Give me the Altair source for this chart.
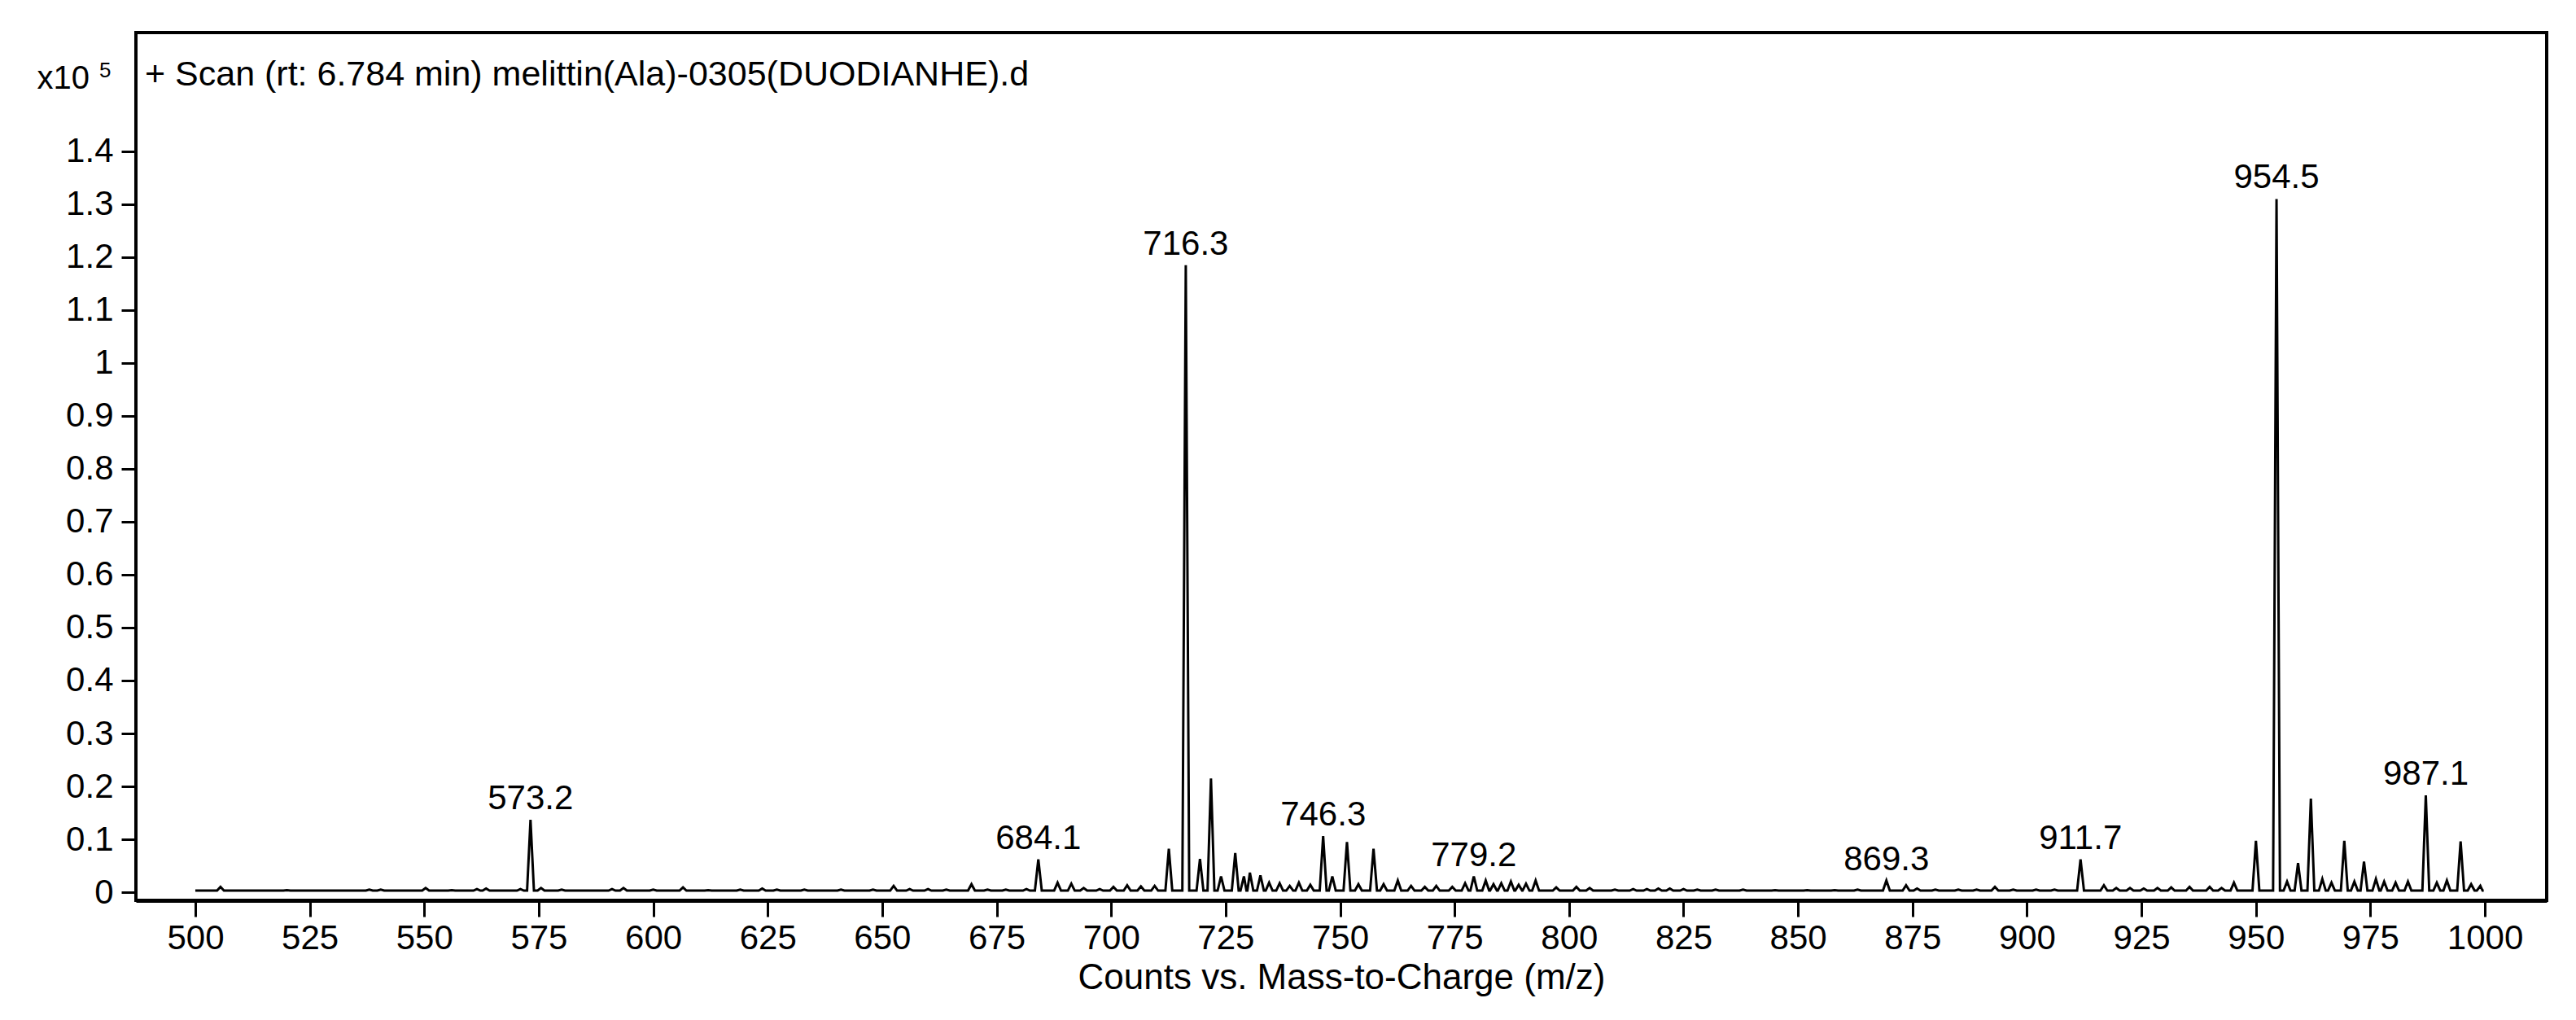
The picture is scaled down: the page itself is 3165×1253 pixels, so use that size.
import altair as alt
import pandas as pd

# ---- data (m/z, intensity x10^5) ----
peak_mz = [
    505.5, 520.0, 538.0, 540.5, 550.3, 556.0, 561.5, 563.5, 571.0, 573.2,
    575.5, 580.0, 591.0, 593.5, 600.0, 606.5, 612.0, 619.0, 623.8, 627.0,
    633.0, 641.0, 648.0, 652.5, 656.0, 660.0, 664.0, 669.5, 673.0, 677.0,
    681.5, 684.1, 688.3, 691.3, 694.0, 697.5, 700.5, 703.5, 706.5, 709.5,
    712.6, 716.3, 719.4, 721.8, 724.0, 727.1, 729.0, 730.3, 732.6, 734.5,
    736.8, 739.0, 741.0, 743.5, 746.3, 748.3, 751.5, 754.0, 757.3, 759.5,
    762.6, 765.5, 768.5, 771.0, 774.5, 777.3, 779.2, 781.8, 783.5, 785.2,
    787.3, 789.0, 790.6, 792.7, 797.2, 801.6, 804.5, 810.0, 814.0, 817.0,
    819.5, 822.0, 825.0, 828.0, 832.0, 838.0, 845.0, 852.0, 858.0, 863.0,
    869.3, 873.6, 876.0, 880.0, 885.0, 889.0, 893.0, 897.0, 902.0, 906.0,
    911.7, 916.8, 919.5, 922.5, 925.5, 928.5, 931.5, 935.5, 939.9, 942.5,
    945.2, 950.0, 954.5, 956.8, 959.2, 962.0, 964.5, 966.5, 969.3, 971.5,
    973.6, 976.2, 978.0, 980.5, 983.2, 987.1, 989.5, 991.7, 994.7, 997.0,
    999.0,
]
peak_height = [
    0.010, 0.004, 0.005, 0.005, 0.008, 0.004, 0.006, 0.007, 0.006, 0.137,
    0.008, 0.005, 0.006, 0.008, 0.005, 0.009, 0.004, 0.005, 0.007, 0.005,
    0.005, 0.005, 0.005, 0.012, 0.006, 0.006, 0.005, 0.015, 0.005, 0.005,
    0.006, 0.062, 0.018, 0.016, 0.008, 0.006, 0.010, 0.013, 0.011, 0.012,
    0.082, 1.185, 0.063, 0.215, 0.030, 0.074, 0.030, 0.037, 0.032, 0.018,
    0.017, 0.012, 0.018, 0.014, 0.106, 0.030, 0.095, 0.015, 0.082, 0.015,
    0.022, 0.012, 0.010, 0.012, 0.010, 0.017, 0.030, 0.022, 0.015, 0.017,
    0.020, 0.014, 0.016, 0.022, 0.009, 0.010, 0.008, 0.005, 0.006, 0.006,
    0.007, 0.007, 0.006, 0.005, 0.005, 0.005, 0.004, 0.004, 0.004, 0.005,
    0.022, 0.013, 0.007, 0.005, 0.005, 0.005, 0.010, 0.005, 0.005, 0.005,
    0.062, 0.013, 0.008, 0.008, 0.007, 0.008, 0.009, 0.010, 0.010, 0.008,
    0.018, 0.097, 1.310, 0.020, 0.055, 0.177, 0.025, 0.018, 0.097, 0.020,
    0.058, 0.025, 0.020, 0.018, 0.020, 0.183, 0.018, 0.022, 0.096, 0.015,
    0.012,
]
scan_start = 500.0
scan_end = 999.5
baseline_level = 0.003

label_mz = [573.2, 684.1, 716.3, 746.3, 779.2, 869.3, 911.7, 954.5, 987.1]
label_height = [0.137, 0.062, 1.185, 0.106, 0.030, 0.022, 0.062, 1.310, 0.183]
label_text = ["573.2", "684.1", "716.3", "746.3", "779.2", "869.3", "911.7", "954.5", "987.1"]

x_ticks = [500, 525, 550, 575, 600, 625, 650, 675, 700, 725, 750, 775, 800,
           825, 850, 875, 900, 925, 950, 975, 1000]
y_ticks = [0, 0.1, 0.2, 0.3, 0.4, 0.5, 0.6, 0.7, 0.8, 0.9, 1.0, 1.1, 1.2, 1.3, 1.4]

title_text = "+ Scan (rt: 6.784 min) melittin(Ala)-0305(DUODIANHE).d"
x_title = "Counts vs. Mass-to-Charge (m/z)"

# ---- profile table: each peak drawn as a narrow triangle on the baseline ----
half_width = 0.75
rows = [(scan_start, baseline_level)]
for mz, h in zip(peak_mz, peak_height):
    rows.append((mz - half_width, baseline_level))
    rows.append((mz, h))
    rows.append((mz + half_width, baseline_level))
rows.append((scan_end, baseline_level))
profile = pd.DataFrame(rows, columns=["mz", "intensity"]).sort_values("mz", kind="stable")

labels = pd.DataFrame({"mz": label_mz, "intensity": label_height, "text": label_text})

FONT = "Liberation Sans"
x_scale = alt.Scale(domain=[487.03, 1013.5], nice=False, zero=False)
y_scale = alt.Scale(domain=[-0.01538, 1.6246], nice=False, zero=False)

line = alt.Chart(profile).mark_line(color="black", strokeWidth=3, clip=True).encode(
    x=alt.X("mz:Q", scale=x_scale,
            axis=alt.Axis(values=x_ticks, format="d", title=x_title, grid=False, tickSize=20,
                          tickWidth=3, domainWidth=5, domainColor="black", tickColor="black",
                          labelFontSize=42, labelFont=FONT, labelColor="black",
                          labelPadding=6, labelFlush=False, labelOverlap=False,
                          titleFont=FONT, titleFontSize=44, titleFontWeight="normal",
                          titleColor="black", titlePadding=6)),
    y=alt.Y("intensity:Q", scale=y_scale,
            axis=alt.Axis(values=y_ticks, format=".1~f", title=None, grid=False,
                          tickSize=18, tickWidth=3, domainWidth=3, domainColor="black",
                          tickColor="black", labelFontSize=42, labelFont=FONT,
                          labelColor="black", labelPadding=10, labelOverlap=False)),
)

peak_labels = alt.Chart(labels).mark_text(
    font=FONT, fontSize=42, color="black", align="center", baseline="bottom", dy=-4
).encode(x=alt.X("mz:Q", scale=x_scale), y=alt.Y("intensity:Q", scale=y_scale), text="text:N")

head = pd.DataFrame({"t": [title_text]})
title_mark = alt.Chart(head).mark_text(
    font=FONT, fontSize=43, color="black", align="left", baseline="alphabetic"
).encode(x=alt.value(11), y=alt.value(65), text="t:N")

mult = pd.DataFrame({"t": ["x10"]})
mult_mark = alt.Chart(mult).mark_text(
    font=FONT, fontSize=40, color="black", align="right", baseline="alphabetic"
).encode(x=alt.value(-57), y=alt.value(69), text="t:N")

exp = pd.DataFrame({"t": ["5"]})
exp_mark = alt.Chart(exp).mark_text(
    font=FONT, fontSize=26, color="black", align="left", baseline="alphabetic"
).encode(x=alt.value(-45), y=alt.value(55), text="t:N")

chart = alt.layer(line, peak_labels, title_mark, mult_mark, exp_mark).properties(
    width=2962, height=1066,
    autosize=alt.AutoSizeParams(type="none"),
    padding={"left": 159, "top": 32, "right": 28, "bottom": 130},
    background="white",
).configure_view(stroke="black", strokeWidth=4)

chart.save("out.html", embed_options={"renderer": "svg", "actions": False})
